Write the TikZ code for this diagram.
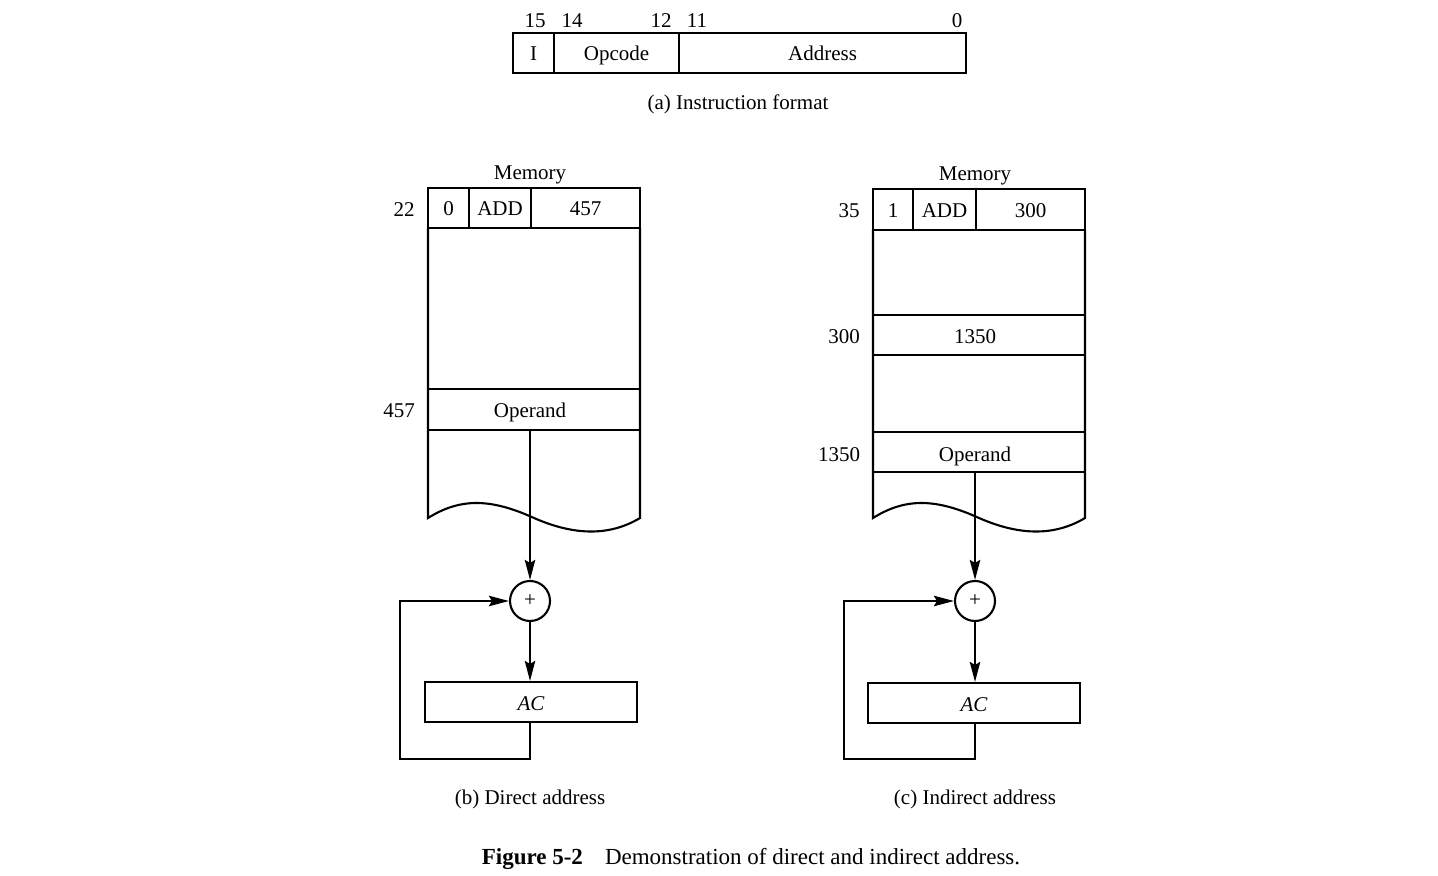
\documentclass[tikz,border=0pt]{standalone}
\usepackage{fontspec}
\setmainfont{Liberation Serif}
\usetikzlibrary{arrows.meta,calc}
\begin{document}
\begin{tikzpicture}[x=0.5pt,y=-0.5pt,
  every node/.style={font=\fontsize{10.5}{12}\selectfont, inner sep=0pt, text height=8pt, text depth=0pt},
  cell/.style={draw, line width=1.05pt, minimum height=20pt},
  ln/.style={line width=1.05pt},
  arr/.style={line width=1.05pt, -{Stealth[length=10pt,width=5.2pt,inset=1.5pt]}},
  sum/.style={draw, circle, line width=1.05pt, minimum size=20pt, text height=, text depth=}]
\useasboundingbox (0,0) rectangle (1438,876);
% (a) instruction format
\node[cell, minimum width=20.5pt] (fi) at (533.5,53) {I};
\node[cell, minimum width=62.5pt] (fop) at (616.5,53) {Opcode};
\node[cell, minimum width=143.5pt] (fad) at (822.5,53) {Address};
\node (b15) at (535,20) {15};
\node (b14) at (572,20) {14};
\node (b12) at (661,20) {12};
\node (b11) at (697,20) {11};
\node (b0) at (957,20) {0};
\node (capa) at (738,102) {(a) Instruction format};
% (b) direct
\node (m1) at (530,172) {Memory};
\node[cell, minimum width=20.5pt] (c1i) at (448.5,208) {0};
\node[cell, minimum width=31pt] (c1op) at (500,208) {ADD};
\node[cell, minimum width=54.5pt] (c1ad) at (585.5,208) {457};
\node (a22) at (404,209) {22};
\node[cell, minimum width=106pt, minimum height=20.5pt] (op1) at (534,409.5) {};
\node (op1t) at (530,410) {Operand};
\node (a457) at (399,410) {457};
\draw[ln] (428,228) -- (428,518) .. controls (460,498) and (490,498) .. (534,518)
  .. controls (575,536) and (610,536) .. (640,518) -- (640,228);
\node[sum] (s1) at (530,601) {+};
\node[cell, minimum width=106pt] (ac1) at (531,702) {\itshape AC};
\coordinate (f1a) at (530,759);
\coordinate (f1b) at (400,759);
\draw[arr] (op1.south -| s1) -- (s1.north);
\draw[arr] (s1.south) -- (ac1.north -| s1);
\draw[arr] (ac1.south -| s1) -- (f1a) -- (f1b) -- (f1b |- s1) -- (s1.west);
\node (capb) at (530,796) {(b) Direct address};
% (c) indirect
\node (m2) at (975,173) {Memory};
\node[cell, minimum width=20pt, minimum height=20.5pt] (c2i) at (893,209.5) {1};
\node[cell, minimum width=31.5pt, minimum height=20.5pt] (c2op) at (944.5,209.5) {ADD};
\node[cell, minimum width=54.5pt, minimum height=20.5pt] (c2ad) at (1030.5,209.5) {300};
\node (a35) at (849,210) {35};
\node[cell, minimum width=106pt] (r300) at (979,335) {};
\node (r300t) at (975,336) {1350};
\node (a300) at (844,336) {300};
\node[cell, minimum width=106pt] (op2) at (979,452) {};
\node (op2t) at (975,453) {Operand};
\node (a1350) at (839,453) {1350};
\draw[ln] (873,230) -- (873,518) .. controls (905,498) and (935,498) .. (979,518)
  .. controls (1020,536) and (1055,536) .. (1085,518) -- (1085,230);
\node[sum] (s2) at (975,601) {+};
\node[cell, minimum width=106pt] (ac2) at (974,703) {\itshape AC};
\coordinate (f2a) at (975,759);
\coordinate (f2b) at (844,759);
\draw[arr] (op2.south -| s2) -- (s2.north);
\draw[arr] (s2.south) -- (ac2.north -| s2);
\draw[arr] (ac2.south -| s2) -- (f2a) -- (f2b) -- (f2b |- s2) -- (s2.west);
\node (capc) at (975,796) {(c) Indirect address};
% figure caption
\node[font=\fontsize{11.5}{13}\selectfont] (fig) at (751,856) {\textbf{Figure 5-2}\hspace{11pt}Demonstration of direct and indirect address.};
\end{tikzpicture}
\end{document}
